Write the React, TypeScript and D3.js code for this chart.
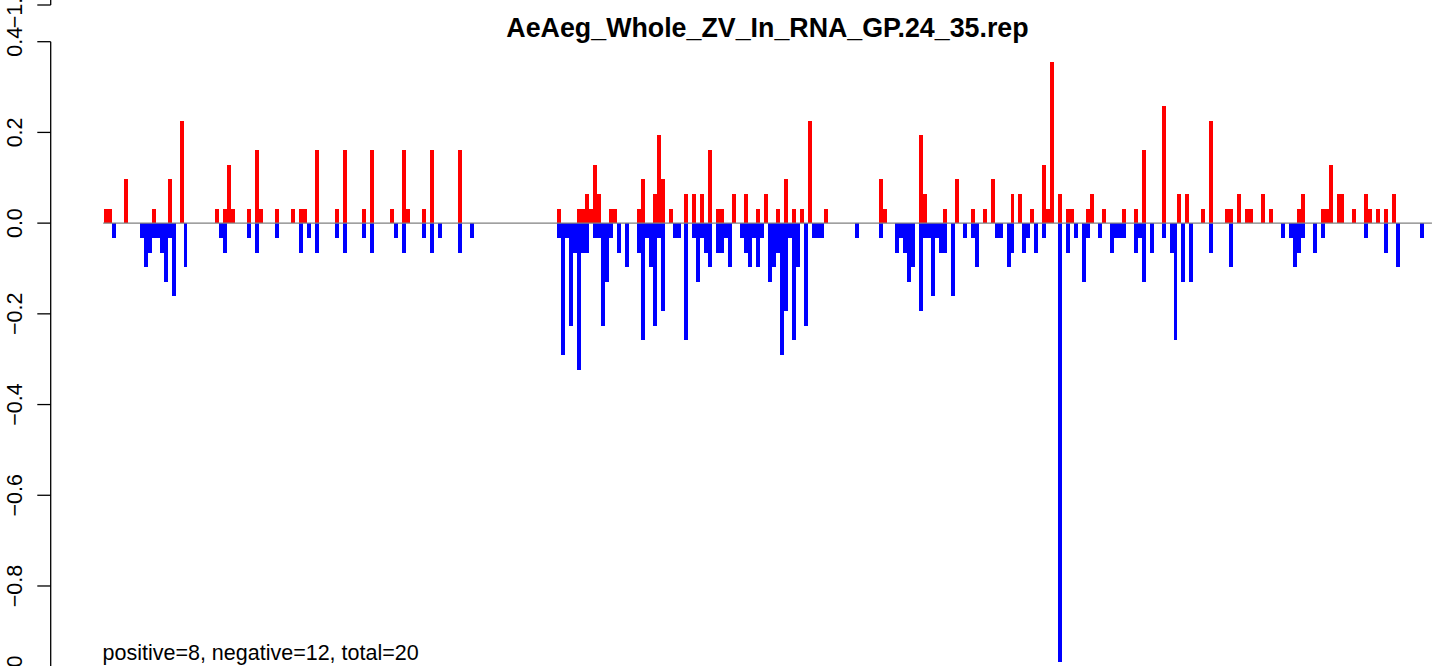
import React from 'react'
import * as d3 from 'd3'

// bin index, value
const positive: [number, number][] = [
  [0, 0.032], [1, 0.032], [5, 0.097], [12, 0.032], [16, 0.097], [19, 0.226], [28, 0.032], [30, 0.032],
  [31, 0.129], [32, 0.032], [36, 0.032], [38, 0.161], [39, 0.032], [43, 0.032], [47, 0.032], [49, 0.032],
  [50, 0.032], [53, 0.161], [58, 0.032], [60, 0.161], [65, 0.032], [67, 0.161], [72, 0.032], [75, 0.161],
  [76, 0.032], [80, 0.032], [82, 0.161], [89, 0.161],
  [114, 0.032], [119, 0.032], [120, 0.032], [121, 0.065], [122, 0.032], [123, 0.129], [124, 0.065],
  [127, 0.032], [128, 0.032], [134, 0.032], [135, 0.097], [138, 0.065], [139, 0.194], [140, 0.097],
  [142, 0.032], [146, 0.065], [148, 0.065], [150, 0.065], [152, 0.161], [154, 0.032], [155, 0.032],
  [158, 0.065], [161, 0.065], [164, 0.032], [166, 0.065], [169, 0.032], [171, 0.097], [173, 0.032],
  [175, 0.032], [177, 0.226], [181, 0.032], [195, 0.097], [196, 0.032],
  [205, 0.194], [206, 0.065], [211, 0.032], [214, 0.097], [218, 0.032], [221, 0.032], [223, 0.097],
  [228, 0.065], [230, 0.065], [233, 0.032], [236, 0.129], [237, 0.032], [238, 0.355], [240, 0.065],
  [242, 0.032], [243, 0.032], [247, 0.032], [248, 0.065], [251, 0.032], [256, 0.032], [259, 0.032],
  [261, 0.161], [266, 0.258], [270, 0.065], [272, 0.065], [276, 0.032], [278, 0.226], [282, 0.032],
  [283, 0.032], [285, 0.065], [287, 0.032], [288, 0.032], [291, 0.065], [293, 0.032], [300, 0.032],
  [301, 0.065], [306, 0.032], [307, 0.032], [308, 0.129], [310, 0.065], [311, 0.065], [314, 0.032],
  [317, 0.065], [318, 0.032], [320, 0.032], [322, 0.032], [324, 0.065],
]

const negative: [number, number][] = [
  [2, -0.032], [9, -0.032], [10, -0.097], [11, -0.065], [12, -0.032], [13, -0.032], [14, -0.065],
  [15, -0.129], [16, -0.032], [17, -0.161], [20, -0.097], [29, -0.032], [30, -0.065], [36, -0.032],
  [38, -0.065], [43, -0.032], [49, -0.065], [51, -0.032], [53, -0.065], [58, -0.032], [60, -0.065],
  [65, -0.032], [67, -0.065], [73, -0.032], [75, -0.065], [80, -0.032], [82, -0.065], [84, -0.032],
  [89, -0.065], [92, -0.032],
  [114, -0.032], [115, -0.29], [116, -0.032], [117, -0.226], [118, -0.065], [119, -0.323], [120, -0.065],
  [121, -0.065], [123, -0.032], [124, -0.032], [125, -0.226], [126, -0.129], [127, -0.032], [129, -0.065],
  [131, -0.097], [134, -0.065], [135, -0.258], [136, -0.032], [137, -0.097], [138, -0.226], [139, -0.032],
  [140, -0.194], [143, -0.032], [144, -0.032], [146, -0.258], [148, -0.032], [149, -0.129], [150, -0.032],
  [151, -0.065], [152, -0.097], [154, -0.065], [155, -0.065], [156, -0.032], [157, -0.097], [160, -0.032],
  [161, -0.065], [162, -0.097], [163, -0.032], [164, -0.097], [165, -0.032], [167, -0.129], [168, -0.097],
  [169, -0.065], [170, -0.29], [171, -0.194], [172, -0.032], [173, -0.258], [174, -0.097], [176, -0.226],
  [178, -0.032], [179, -0.032], [180, -0.032], [189, -0.032], [195, -0.032],
  [199, -0.065], [200, -0.032], [201, -0.065], [202, -0.129], [203, -0.097], [205, -0.194], [206, -0.032],
  [207, -0.032], [208, -0.161], [209, -0.032], [210, -0.065], [211, -0.065], [213, -0.161], [216, -0.032],
  [218, -0.032], [219, -0.097], [224, -0.032], [225, -0.032], [227, -0.097], [228, -0.065],
  [231, -0.065], [232, -0.032], [234, -0.065], [236, -0.032], [240, -0.968], [242, -0.065], [244, -0.032],
  [246, -0.129], [247, -0.032], [250, -0.032], [253, -0.065], [254, -0.032], [255, -0.032], [256, -0.032],
  [259, -0.065], [260, -0.032], [261, -0.129], [263, -0.065], [266, -0.032], [268, -0.065], [269, -0.258],
  [271, -0.129], [273, -0.129], [278, -0.065], [283, -0.097], [296, -0.032], [298, -0.032], [299, -0.097],
  [300, -0.065], [301, -0.032], [304, -0.065], [306, -0.032],
  [317, -0.032], [322, -0.065], [325, -0.097], [331, -0.032],
]

const yTicks = [0.4, 0.2, 0, -0.2, -0.4, -0.6, -0.8, -1.0]
const yTickLabels = ['0.4', '0.2', '0.0', '\u22120.2', '\u22120.4', '\u22120.6', '\u22120.8', '\u22121.0']

const title = 'AeAeg_Whole_ZV_In_RNA_GP.24_35.rep'
const note = 'positive=8, negative=12, total=20'
const nBins = 332

export default function App() {
  const width = 1441
  const height = 666
  const font = '"Liberation Sans", Arial, Helvetica, sans-serif'

  const xScale = d3.scaleLinear().domain([0, nBins]).range([104, 1424])
  const yScale = d3.scaleLinear().domain([-1, 0.4]).range([676.7, 41.7])
  const axisX = 50.7

  return (
    <div style={{ position: 'absolute', left: 0, top: 0 }}>
      <svg width={width} height={height} style={{ display: 'block', background: '#fff' }}>
        <text x={767.5} y={37} textAnchor="middle" fontFamily={font} fontWeight="bold" fontSize={26.8}>
          {title}
        </text>

        {/* y axis */}
        <line x1={axisX} x2={axisX} y1={yScale(0.4)} y2={yScale(-1)} stroke="#000" strokeWidth={1.3} />
        {yTicks.map((t, i) => (
          <g key={t}>
            <line x1={37.3} x2={axisX} y1={yScale(t)} y2={yScale(t)} stroke="#000" strokeWidth={1.3} />
            <text
              transform={`translate(21.7,${yScale(t)}) rotate(-90)`}
              textAnchor="middle"
              fontFamily={font}
              fontSize={21.5}
            >
              {yTickLabels[i]}
            </text>
          </g>
        ))}
        {/* end of the panel above */}
        <line x1={axisX} x2={axisX} y1={0} y2={5} stroke="#000" strokeWidth={1.3} />
        <line x1={37.3} x2={axisX} y1={5} y2={5} stroke="#000" strokeWidth={1.3} />
        <text transform="translate(21.7,7) rotate(-90)" textAnchor="middle" fontFamily={font} fontSize={21.5}>
          {'\u22121.0'}
        </text>

        {positive.map(([b, v]) => (
          <rect
            key={`p${b}`}
            x={xScale(b)}
            width={xScale(b + 1) - xScale(b)}
            y={yScale(v)}
            height={yScale(0) - yScale(v)}
            fill="#ff0000"
            shapeRendering="crispEdges"
          />
        ))}
        {negative.map(([b, v]) => (
          <rect
            key={`n${b}`}
            x={xScale(b)}
            width={xScale(b + 1) - xScale(b)}
            y={yScale(0)}
            height={yScale(v) - yScale(0)}
            fill="#0000ff"
            shapeRendering="crispEdges"
          />
        ))}

        <line
          x1={xScale(-0.2)}
          x2={xScale(334)}
          y1={yScale(0)}
          y2={yScale(0)}
          stroke="#808080"
          strokeWidth={1.4}
        />

        <text x={102.5} y={660} fontFamily={font} fontSize={21.5}>
          {note}
        </text>
      </svg>
    </div>
  )
}
